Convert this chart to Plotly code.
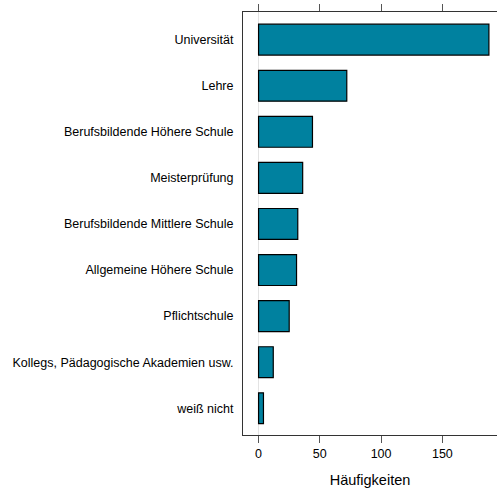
import plotly.graph_objects as go

categories = ["weiß nicht", "Kollegs, Pädagogische Akademien usw.", "Pflichtschule",
              "Allgemeine Höhere Schule", "Berufsbildende Mittlere Schule", "Meisterprüfung",
              "Berufsbildende Höhere Schule", "Lehre", "Universität"]
counts = [4, 12, 25, 31, 32, 36, 44, 72, 188]
x_ticks = [0, 50, 100, 150]

FONT = "Liberation Sans, Arial, Helvetica, sans-serif"

fig = go.Figure(go.Bar(
    x=counts, y=categories, orientation="h", width=0.67,
    marker=dict(color="#00819F", line=dict(color="black", width=1.2)),
))

fig.update_layout(
    width=497, height=491,
    margin=dict(l=243, r=0, t=12, b=56),
    plot_bgcolor="white", paper_bgcolor="white",
    font=dict(family=FONT, size=12, color="black"),
    showlegend=False,
    xaxis=dict(
        range=[-12.7, 194.6], tickvals=x_ticks, ticks="outside", ticklen=7,
        tickcolor="#555555", showline=True, linecolor="#333333", linewidth=1,
        mirror="ticks", showgrid=False, zeroline=True, zerolinecolor="#e3e3e3",
        zerolinewidth=1, tickfont=dict(size=12.5),
        title=dict(text="Häufigkeiten", font=dict(size=14.5), standoff=14),
    ),
    yaxis=dict(
        range=[-0.58, 8.6], ticks="", showline=True, linecolor="#333333",
        linewidth=1, showgrid=False, ticklabelstandoff=6, tickfont=dict(size=12.5),
    ),
)

fig.write_html(
    "out.html",
    config={"displayModeBar": False},
    post_script="document.body.style.margin='0';document.body.style.overflow='hidden';",
)
